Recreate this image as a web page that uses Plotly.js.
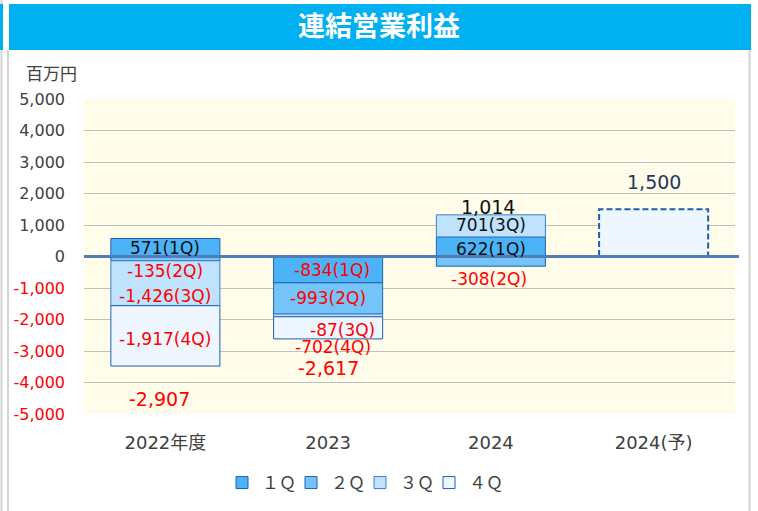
<!DOCTYPE html>
<html>
<head>
<meta charset="utf-8">
<script src="https://cdn.plot.ly/plotly-3.0.1.min.js"></script>
<style>
html,body{margin:0;padding:0;background:#fff;}
#chart{width:758px;height:511px;}
</style>
</head>
<body>
<div id="chart"></div>
<script>
// ---- data ----
const categories = ['2022年度', '2023', '2024', '2024(予)'];
const seriesNames = ['１Ｑ', '２Ｑ', '３Ｑ', '４Ｑ'];
const q1 = [571, -834, 622, null];
const q2 = [-135, -993, -308, null];
const q3 = [-1426, -87, 701, null];
const q4 = [-1917, -702, null, null];
const forecast = [null, null, null, 1500];
const totals = [-2907, -2617, 1014, 1500];
const quarterTags = ['(1Q)', '(2Q)', '(3Q)', '(4Q)'];
const yTickVals = [-5000, -4000, -3000, -2000, -1000, 0, 1000, 2000, 3000, 4000, 5000];
const unitLabel = '百万円';
const chartTitle = '連結営業利益';

// ---- styles ----
const fills = ['#4db3f7', '#74c4fa', '#bfe3fc', '#eef6ff'];
const borders = ['#1d62b0', '#1d62b0', '#3f7fc8', '#1d62b0'];
const L = 84, R = 735, T = 99, B = 414, FW = 758, FH = 511;
const px2x = p => (p - L) / (R - L);
const py2y = p => (B - p) / (B - T);
const fmt = v => (v < 0 ? '-' : '') + Math.abs(v).toLocaleString('en-US');
const RED = '#ff0000';
const DARK = '#111111';
const barWidthFrac = 0.67;

const seriesData = [q1, q2, q3, q4];
const traces = seriesData.map((arr, i) => ({
  type: 'bar', x: categories, y: arr, name: seriesNames[i],
  marker: {color: fills[i], line: {color: borders[i], width: 1}},
  hoverinfo: 'skip'
}));
traces.push({
  type: 'bar', x: categories, y: forecast, name: '予想', showlegend: false,
  marker: {color: '#eef6ff', line: {width: 0}}, hoverinfo: 'skip'
});
// invisible spacer entry so the last legend label is not clipped
traces.push({
  type: 'bar', x: categories, y: [null, null, null, null], name: ' ', showlegend: true,
  marker: {color: 'rgba(0,0,0,0)', line: {width: 0}}, hoverinfo: 'skip'
});

// ---- label annotations (anchored at segment centres, with pixel offsets) ----
const labelOffsets = [
  [[0, 0], [4, 0], [0, -2], null],
  [[0, -12], [0, 0], [-2, -18], null],
  [[0, -13], [14, -15], [0, 1], null],
  [[0, -3], [5, -19], null, null]
];
const annotations = [];
categories.forEach((c, ci) => {
  let pos = 0, neg = 0;
  seriesData.forEach((arr, si) => {
    const v = arr[ci];
    if (v === null || v === undefined) return;
    let base;
    if (v >= 0) { base = pos; pos += v; } else { base = neg; neg += v; }
    const mid = base + v / 2;
    const off = labelOffsets[si][ci] || [0, 0];
    annotations.push({
      x: ci, y: mid, xref: 'x', yref: 'y', showarrow: false,
      xanchor: 'center', yanchor: 'middle',
      text: fmt(v) + quarterTags[si], xshift: off[0], yshift: off[1],
      font: {family: 'DejaVu Sans', size: 17, color: v < 0 ? RED : DARK}
    });
  });
});
// totals
const totalOffsets = [[-6, -33], [0, -29], [-3, 8], [0, 27]];
const totalColors = [RED, RED, DARK, '#1f3864'];
categories.forEach((c, ci) => {
  let pos = 0, neg = 0;
  seriesData.concat([forecast]).forEach(arr => {
    const v = arr[ci];
    if (v === null || v === undefined) return;
    if (v >= 0) pos += v; else neg += v;
  });
  const anchor = totals[ci] < 0 ? neg : pos;
  annotations.push({
    x: ci, y: anchor, xref: 'x', yref: 'y', showarrow: false,
    xanchor: 'center', yanchor: 'middle',
    text: fmt(totals[ci]), xshift: totalOffsets[ci][0], yshift: totalOffsets[ci][1],
    font: {family: 'DejaVu Sans', size: 19, color: totalColors[ci]}
  });
});
annotations.push({
  x: px2x(51), y: py2y(72), xref: 'paper', yref: 'paper', showarrow: false,
  xanchor: 'center', yanchor: 'middle',
  text: unitLabel, font: {family: 'Noto Sans CJK JP', size: 17, color: '#404040'}
});

const shapes = [
  // title bar
  {type: 'rect', xref: 'paper', yref: 'paper', x0: px2x(9), x1: px2x(751), y0: py2y(50), y1: py2y(4),
   fillcolor: '#00b0f0', line: {width: 0}, layer: 'below'},
  // frame lines
  {type: 'line', xref: 'paper', yref: 'paper', x0: px2x(1.5), x1: px2x(1.5), y0: py2y(0), y1: py2y(FH),
   line: {color: '#d4d4d4', width: 2}, layer: 'below'},
  {type: 'rect', xref: 'paper', yref: 'paper', x0: px2x(0), x1: px2x(3), y0: py2y(50), y1: py2y(4),
   fillcolor: '#00b0f0', line: {width: 0}, layer: 'below'},
  {type: 'line', xref: 'paper', yref: 'paper', x0: px2x(8), x1: px2x(8), y0: py2y(50), y1: py2y(FH),
   line: {color: '#d4d4d4', width: 2}, layer: 'below'},
  {type: 'line', xref: 'paper', yref: 'paper', x0: px2x(749.5), x1: px2x(749.5), y0: py2y(50), y1: py2y(FH),
   line: {color: '#d4d4d4', width: 2}, layer: 'below'},
  // forecast dashed outline
  {type: 'rect', xref: 'x', yref: 'y', x0: 3 - barWidthFrac / 2, x1: 3 + barWidthFrac / 2, y0: 0, y1: forecast[3],
   line: {color: '#1d5fae', width: 2, dash: '6px,3px'}, fillcolor: 'rgba(0,0,0,0)', layer: 'above'},
  // zero line
  {type: 'line', xref: 'paper', yref: 'y', x0: 0, x1: px2x(739), y0: 0, y1: 0,
   line: {color: '#4f7db8', width: 3}, layer: 'above'}
];

const layout = {
  width: FW, height: FH,
  margin: {l: L, r: FW - R, t: T, b: FH - B, pad: 0},
  paper_bgcolor: '#ffffff', plot_bgcolor: '#fffde9',
  barmode: 'relative', bargap: 1 - barWidthFrac,
  title: {text: '<b>' + chartTitle + '</b>', x: 0.5, xref: 'container', y: 1 - 27 / FH, yref: 'container',
          yanchor: 'middle', xanchor: 'center',
          font: {family: 'Noto Sans CJK JP', size: 27, color: '#ffffff'}},
  xaxis: {type: 'category', showgrid: false, zeroline: false, showline: false, ticks: '',
          ticklabelstandoff: 16, tickfont: {family: 'DejaVu Sans, Noto Sans CJK JP', size: 18, color: '#404040'}},
  yaxis: {range: [-5000, 5000], tickvals: yTickVals,
          ticktext: yTickVals.map(v => v < 0 ? '<span style="color:' + RED + '">' + fmt(v) + '</span>' : fmt(v)),
          showgrid: true, gridcolor: '#bfbfbf', gridwidth: 1, zeroline: false, showline: false, ticks: '',
          ticklabelstandoff: 18, tickfont: {family: 'DejaVu Sans', size: 16, color: '#404040'}},
  legend: {orientation: 'h', x: 222 / FW, xref: 'container', xanchor: 'left',
           y: 1 - 483 / FH, yref: 'container', yanchor: 'middle',
           font: {family: 'Noto Sans CJK JP', size: 17, color: '#404040'},
           entrywidth: 24, entrywidthmode: 'pixels', traceorder: 'normal', bgcolor: 'rgba(0,0,0,0)'},
  showlegend: true,
  annotations: annotations,
  shapes: shapes
};

Plotly.newPlot('chart', traces, layout, {staticPlot: true, displayModeBar: false});
</script>
</body>
</html>
